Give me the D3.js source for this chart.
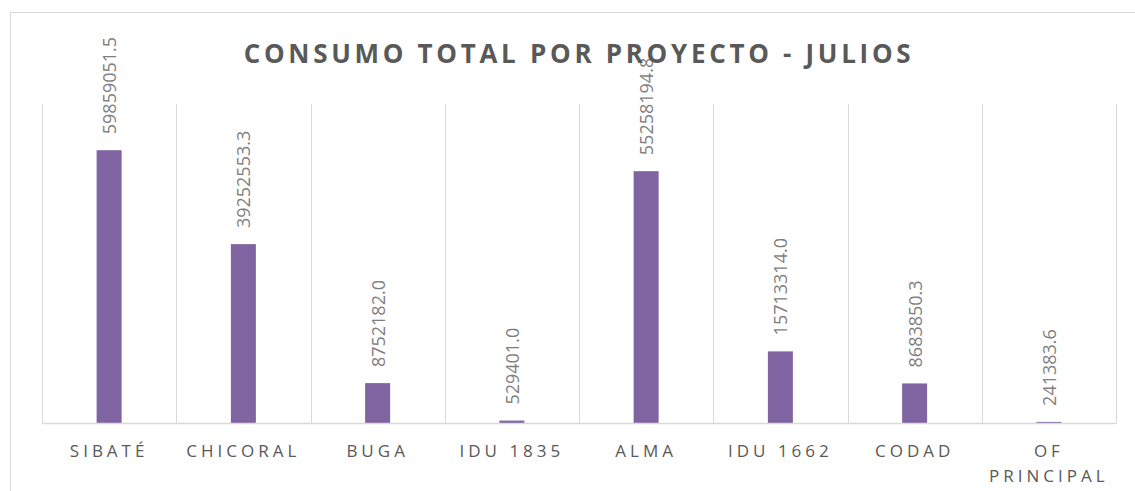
<!DOCTYPE html>
<html>
<head>
<meta charset="utf-8">
<script src="https://cdn.jsdelivr.net/npm/d3@7"></script>
<style>
  body { margin: 0; background: #fff; }
  #chart svg { display: block; }
  #chart text { font-family: "Open Sans", sans-serif; }
</style>
</head>
<body>
<div id="chart"></div>
<script>
const proyectos = ["SIBATÉ", "CHICORAL", "BUGA", "IDU 1835", "ALMA", "IDU 1662", "CODAD", "OF PRINCIPAL"];
const consumo = [59859051.5, 39252553.3, 8752182.0, 529401.0, 55258194.8, 15713314.0, 8683850.3, 241383.6];
const titulo = "CONSUMO TOTAL POR PROYECTO - JULIOS";

const data = proyectos.map((p, i) => ({ proyecto: p, valor: consumo[i] }));

const W = 1135, H = 491;
const plot = { left: 42, right: 1116, top: 104, bottom: 423 };

const svg = d3.select("#chart").append("svg")
    .attr("width", W)
    .attr("height", H);

// outer chart border
svg.append("rect")
    .attr("x", 10.5).attr("y", 12.5)
    .attr("width", W + 20).attr("height", H + 20)
    .attr("fill", "none")
    .attr("stroke", "#d9d9d9");

const x = d3.scaleBand()
    .domain(proyectos)
    .range([plot.left, plot.right])
    .paddingInner(0)
    .paddingOuter(0);

const y = d3.scaleLinear()
    .domain([0, 70000000])
    .range([plot.bottom, plot.top]);

// vertical gridlines between categories
const edges = proyectos.map(p => x(p)).concat([plot.right]);
svg.append("g")
    .selectAll("line")
    .data(edges)
    .enter()
    .append("line")
    .attr("x1", d => Math.round(d) + 0.5)
    .attr("x2", d => Math.round(d) + 0.5)
    .attr("y1", plot.top)
    .attr("y2", plot.bottom)
    .attr("stroke", "#d9d9d9")
    .attr("stroke-width", 1);

const barW = 25;
svg.append("g")
    .selectAll("rect")
    .data(data)
    .enter()
    .append("rect")
    .attr("x", d => x(d.proyecto) + x.bandwidth() / 2 - barW / 2)
    .attr("width", barW)
    .attr("y", d => y(d.valor))
    .attr("height", d => y(0) - y(d.valor))
    .attr("fill", "#8064a2");

// x axis baseline + labels
const xAxis = d3.axisBottom(x).tickSize(0).tickPadding(0);
const gx = svg.append("g")
    .attr("transform", `translate(0,${plot.bottom})`)
    .call(xAxis)
    .attr("font-family", null);
gx.select(".domain")
    .attr("stroke", "#d9d9d9")
    .attr("stroke-width", 1.5);
gx.selectAll("text")
    .attr("fill", "#595959")
    .style("font-size", "17px")
    .style("letter-spacing", "4px")
    .attr("y", 34)
    .attr("dy", null)
    .each(function(d) {
        const t = d3.select(this);
        if (this.getComputedTextLength() > x.bandwidth() - 10) {
            const words = d.split(" ");
            t.text(null);
            words.forEach((w, i) => {
                t.append("tspan")
                    .attr("x", 0)
                    .attr("y", 34 + i * 25)
                    .text(w);
            });
        }
    });

// value labels, rotated
svg.append("g")
    .selectAll("text")
    .data(data)
    .enter()
    .append("text")
    .attr("transform", d => `translate(${x(d.proyecto) + x.bandwidth() / 2 + 7},${y(d.valor) - 16}) rotate(-90)`)
    .attr("text-anchor", "start")
    .attr("fill", "#7f7f7f")
    .style("font-size", "18px")
    .text(d => d.valor.toFixed(1));

svg.append("text")
    .attr("x", 579)
    .attr("y", 63)
    .attr("text-anchor", "middle")
    .attr("fill", "#595959")
    .style("font-size", "26px")
    .style("font-weight", "bold")
    .style("letter-spacing", "3.7px")
    .text(titulo);
</script>
</body>
</html>
